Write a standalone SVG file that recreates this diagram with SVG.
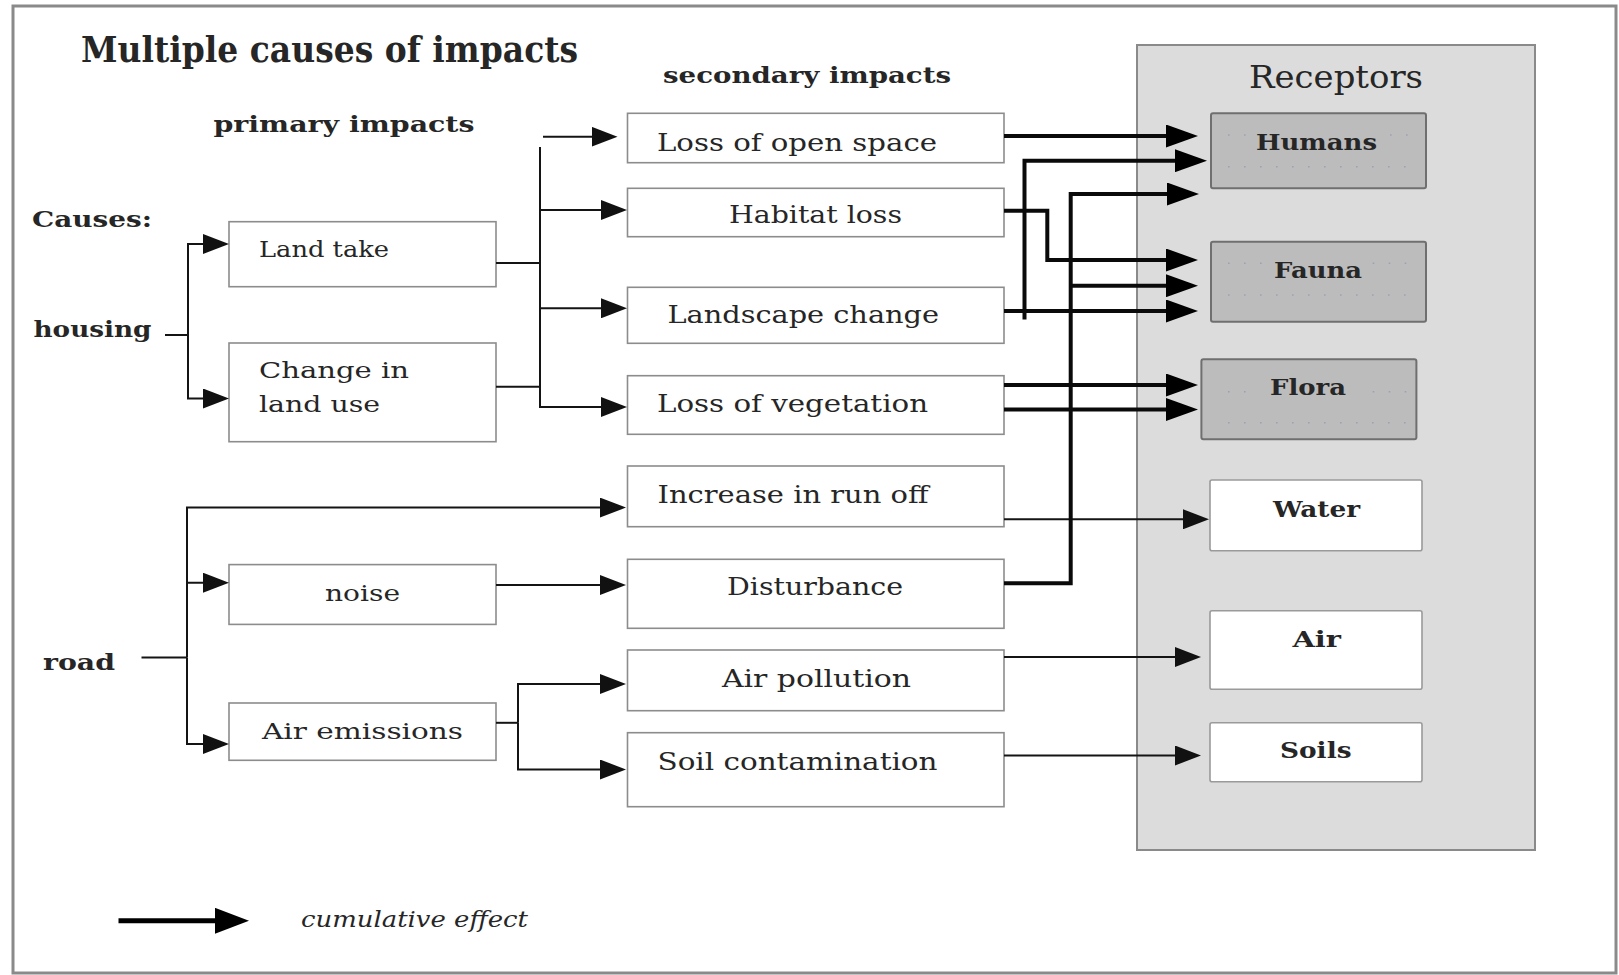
<svg xmlns="http://www.w3.org/2000/svg" width="1619" height="975" viewBox="0 0 1619 975">
<defs>
<style>
.t{font-family:"DejaVu Serif","Liberation Serif",serif;fill:#262626}
.b{font-weight:bold}
.box{fill:#fff;stroke:#8c8c8c;stroke-width:1.6}
.rec{fill:#bcbcbc;stroke:#6f6f6f;stroke-width:2}
.wrec{fill:#fff;stroke:#9a9a9a;stroke-width:1.6}
.thin{fill:none;stroke:#141414;stroke-width:2}
.thick{fill:none;stroke:#0a0a0a;stroke-width:4}
.dots{fill:none;stroke:#9aa0b6;stroke-width:1.6;stroke-dasharray:1.6 14.4}
</style>
<marker id="ah" markerUnits="userSpaceOnUse" markerWidth="26" markerHeight="20" refX="18" refY="10" orient="auto">
<path d="M0,0 L26,10 L0,20 z" fill="#111"/>
</marker>
<marker id="ahT" markerUnits="userSpaceOnUse" markerWidth="32" markerHeight="23" refX="24" refY="11.5" orient="auto">
<path d="M0,0 L32,11.5 L0,23 z" fill="#000"/>
</marker>
<marker id="ahL" markerUnits="userSpaceOnUse" markerWidth="34" markerHeight="26" refX="26" refY="13" orient="auto">
<path d="M0,0 L34,13 L0,26 z" fill="#000"/>
</marker>
</defs>
<rect x="0" y="0" width="1619" height="975" fill="#fff"/>
<rect id="frame" x="13" y="6" width="1603" height="967" fill="#fff" stroke="#8a8a8a" stroke-width="3"/>

<text class="t b" x="81" y="62" font-size="35" textLength="497" lengthAdjust="spacingAndGlyphs">Multiple causes of impacts</text>
<text class="t b" x="213.5" y="131.5" font-size="23" textLength="261" lengthAdjust="spacingAndGlyphs">primary impacts</text>
<text class="t b" x="663" y="83" font-size="23" textLength="288" lengthAdjust="spacingAndGlyphs">secondary impacts</text>
<text class="t b" x="32" y="227" font-size="23" textLength="120" lengthAdjust="spacingAndGlyphs">Causes:</text>
<text class="t b" x="33.5" y="337" font-size="23" textLength="118" lengthAdjust="spacingAndGlyphs">housing</text>
<text class="t b" x="43" y="670" font-size="23" textLength="72" lengthAdjust="spacingAndGlyphs">road</text>

<g id="receptors">
<rect x="1137" y="45" width="398" height="805" fill="#dcdcdc" stroke="#8a8a8a" stroke-width="2"/>
<text class="t" x="1249" y="88" font-size="31" textLength="174" lengthAdjust="spacingAndGlyphs">Receptors</text>
</g>

<g id="n-landtake"><rect class="box" x="229" y="221.7" width="267" height="65"/>
<text class="t" x="259" y="257" font-size="22" textLength="130" lengthAdjust="spacingAndGlyphs">Land take</text></g>
<g id="n-changeland"><rect class="box" x="229" y="343" width="267" height="98.7"/>
<text class="t" x="259" y="378" font-size="22" textLength="150" lengthAdjust="spacingAndGlyphs">Change in</text>
<text class="t" x="259" y="411.5" font-size="22" textLength="121" lengthAdjust="spacingAndGlyphs">land use</text></g>
<g id="n-noise"><rect class="box" x="229" y="564.6" width="267" height="59.8"/>
<text class="t" x="325" y="600.5" font-size="22" textLength="75" lengthAdjust="spacingAndGlyphs">noise</text></g>
<g id="n-airemissions"><rect class="box" x="229" y="703" width="267" height="57.3"/>
<text class="t" x="262" y="738.5" font-size="22" textLength="201" lengthAdjust="spacingAndGlyphs">Air emissions</text></g>

<g id="n-openspace"><rect class="box" x="627.5" y="113.3" width="376.5" height="49.4"/>
<text class="t" x="657" y="151" font-size="24" textLength="280" lengthAdjust="spacingAndGlyphs">Loss of open space</text></g>
<g id="n-habitat"><rect class="box" x="627.5" y="188.3" width="376.5" height="48.4"/>
<text class="t" x="729" y="223" font-size="24" textLength="173" lengthAdjust="spacingAndGlyphs">Habitat loss</text></g>
<g id="n-landscape"><rect class="box" x="627.5" y="287.3" width="376.5" height="56"/>
<text class="t" x="667.5" y="322.5" font-size="24" textLength="271.5" lengthAdjust="spacingAndGlyphs">Landscape change</text></g>
<g id="n-vegetation"><rect class="box" x="627.5" y="375.7" width="376.5" height="58.6"/>
<text class="t" x="657" y="411.5" font-size="24" textLength="271" lengthAdjust="spacingAndGlyphs">Loss of vegetation</text></g>
<g id="n-runoff"><rect class="box" x="627.5" y="466" width="376.5" height="60.7"/>
<text class="t" x="657.5" y="503" font-size="24" textLength="271" lengthAdjust="spacingAndGlyphs">Increase in run off</text></g>
<g id="n-disturbance"><rect class="box" x="627.5" y="559.3" width="376.5" height="69"/>
<text class="t" x="727" y="595" font-size="24" textLength="176" lengthAdjust="spacingAndGlyphs">Disturbance</text></g>
<g id="n-airpollution"><rect class="box" x="627.5" y="650" width="376.5" height="60.7"/>
<text class="t" x="722" y="687" font-size="24" textLength="189" lengthAdjust="spacingAndGlyphs">Air pollution</text></g>
<g id="n-soilcont"><rect class="box" x="627.5" y="732.7" width="376.5" height="74"/>
<text class="t" x="657.5" y="770" font-size="24" textLength="280" lengthAdjust="spacingAndGlyphs">Soil contamination</text></g>

<g id="n-humans"><rect class="rec" x="1211" y="113.3" width="215" height="75" rx="2"/>
<path class="dots" d="M1228,135 H1250 M1390,135 H1412 M1228,166.7 H1412"/>
<text class="t b" x="1256" y="150" font-size="23" textLength="121" lengthAdjust="spacingAndGlyphs">Humans</text></g>
<g id="n-fauna"><rect class="rec" x="1211" y="241.7" width="215" height="80" rx="2"/>
<path class="dots" d="M1228,263.3 H1266 M1372.7,263.3 H1412 M1228,295 H1412"/>
<text class="t b" x="1274" y="278.3" font-size="23" textLength="88" lengthAdjust="spacingAndGlyphs">Fauna</text></g>
<g id="n-flora"><rect class="rec" x="1201.4" y="359.3" width="215" height="80" rx="2"/>
<path class="dots" d="M1228,391.7 H1250 M1372.7,391.7 H1412 M1228,422.7 H1412"/>
<text class="t b" x="1270" y="395" font-size="23" textLength="76" lengthAdjust="spacingAndGlyphs">Flora</text></g>
<g id="n-water"><rect class="wrec" x="1210" y="480" width="212" height="70.7" rx="2"/>
<text class="t b" x="1273" y="516.5" font-size="22" textLength="87" lengthAdjust="spacingAndGlyphs">Water</text></g>
<g id="n-air"><rect class="wrec" x="1210" y="610.7" width="212" height="78.6" rx="2"/>
<text class="t b" x="1292.5" y="646.5" font-size="22" textLength="48.5" lengthAdjust="spacingAndGlyphs">Air</text></g>
<g id="n-soils"><rect class="wrec" x="1210" y="722.7" width="212" height="59" rx="2"/>
<text class="t b" x="1280" y="758" font-size="22" textLength="71.5" lengthAdjust="spacingAndGlyphs">Soils</text></g>

<g id="connectors">
<path class="thin" d="M165,335 H188"/>
<path class="thin" d="M188,335 V244 H221" marker-end="url(#ah)"/>
<path class="thin" d="M188,335 V398.5 H221" marker-end="url(#ah)"/>
<path class="thin" d="M496,263 H540"/>
<path class="thin" d="M496,386.7 H540"/>
<path class="thin" d="M540,147 V407 H619" marker-end="url(#ah)"/>
<path class="thin" d="M540,210 H619" marker-end="url(#ah)"/>
<path class="thin" d="M540,308.3 H619" marker-end="url(#ah)"/>
<path class="thin" d="M543,136.7 H609.5" marker-end="url(#ah)"/>
<path class="thin" d="M141.5,657.5 H187"/>
<path class="thin" d="M187,657.5 V507.6 H618" marker-end="url(#ah)"/>
<path class="thin" d="M187,657.5 V744 H221" marker-end="url(#ah)"/>
<path class="thin" d="M187,582.7 H221" marker-end="url(#ah)"/>
<path class="thin" d="M496,585 H618" marker-end="url(#ah)"/>
<path class="thin" d="M496,722.8 H518"/>
<path class="thin" d="M518,722.8 V684 H618" marker-end="url(#ah)"/>
<path class="thin" d="M518,722.8 V769.5 H618" marker-end="url(#ah)"/>
<path class="thin" d="M1004,519.3 H1201" marker-end="url(#ah)"/>
<path class="thin" d="M1004,657 H1193" marker-end="url(#ah)"/>
<path class="thin" d="M1004,755.5 H1193" marker-end="url(#ah)"/>
<path class="thick" d="M1004,136 H1190" marker-end="url(#ahT)"/>
<path class="thick" d="M1004,311 H1190" marker-end="url(#ahT)"/>
<path class="thick" d="M1024.5,319.5 V160.7 H1199" marker-end="url(#ahT)"/>
<path class="thick" d="M1004,210.7 H1047.3 V260 H1190" marker-end="url(#ahT)"/>
<path class="thick" d="M1004,583.3 H1070.7 V194 H1191" marker-end="url(#ahT)"/>
<path class="thick" d="M1070.7,285.7 H1190" marker-end="url(#ahT)"/>
<path class="thick" d="M1004,385 H1190" marker-end="url(#ahT)"/>
<path class="thick" d="M1004,409.5 H1190" marker-end="url(#ahT)"/>
</g>

<g id="legend">
<path fill="none" stroke="#000" stroke-width="5" d="M118.5,920.8 H241" marker-end="url(#ahL)"/>
<text class="t" x="301" y="926.5" font-size="22" font-style="italic" textLength="227" lengthAdjust="spacingAndGlyphs">cumulative effect</text>
</g>
</svg>
